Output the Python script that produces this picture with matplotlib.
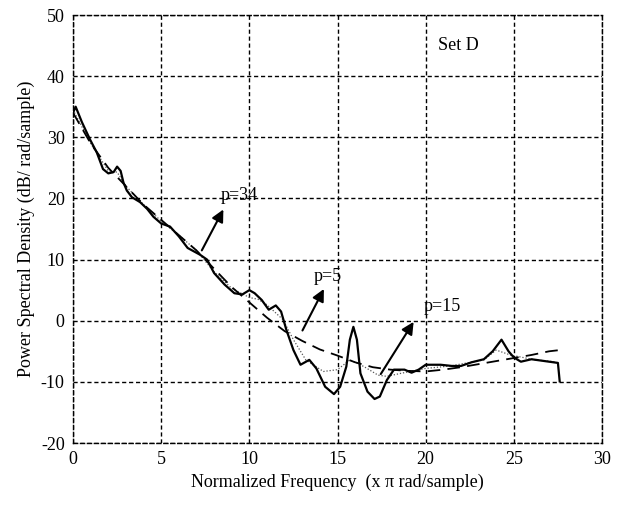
import matplotlib
matplotlib.use("Agg")
import matplotlib.pyplot as plt

# periodogram-like estimate (solid)
freq_solid = [0, 0.15, 0.5, 0.97, 1.35, 1.7, 2.0, 2.3, 2.5, 2.7,
              2.86, 3.05, 3.34, 3.8, 4.2, 4.56, 5.0, 5.5, 6.0, 6.5,
              7.2, 7.6, 8.0, 8.6, 9.15, 9.6, 10.0, 10.3, 10.7, 11.1,
              11.5, 11.8, 12.1, 12.5, 12.9, 13.4, 13.8, 14.3, 14.8, 15.15,
              15.5, 15.7, 15.9, 16.1, 16.3, 16.7, 17.1, 17.4, 17.8, 18.2,
              18.8, 19.2, 19.6, 20.0, 20.85, 21.5, 22.0, 22.6, 23.3, 23.8,
              24.3, 24.7, 25.0, 25.4, 26.0, 26.5, 27.5, 27.6]
psd_solid = [34, 35, 32.5, 29.6, 27.5, 24.8, 24.1, 24.3, 25.2, 24.5,
             22.6, 21.3, 20.2, 19.4, 18.3, 17, 15.9, 15.4, 13.8, 11.9,
             10.8, 10, 7.8, 5.9, 4.5, 4.3, 5, 4.5, 3.4, 1.8,
             2.5, 1.5, -1.5, -4.8, -7.2, -6.4, -7.8, -10.8, -12, -10.8,
             -7.5, -3.1, -1, -3.1, -8.6, -11.6, -12.8, -12.4, -9.7, -8,
             -8, -8.5, -8, -7.2, -7.2, -7.4, -7.4, -6.8, -6.3, -5,
             -3.1, -5, -6, -6.7, -6.3, -6.5, -6.9, -9.9]

# p=5 (dashed)
freq_p5 = [0, 1, 2, 3, 4, 5, 6, 7, 8, 9, 10, 11, 12, 13, 14, 15, 16, 17, 18,
           19, 20, 21, 22, 23, 24, 25, 26, 27, 27.6]
psd_p5 = [34, 29, 25, 22, 19, 16.5, 14, 11.5, 8.5, 5.5, 3, 0.5, -1.7, -3.3,
          -4.7, -5.7, -6.8, -7.6, -8, -8.2, -8.3, -8, -7.6, -7.1, -6.6, -6.1,
          -5.6, -5, -4.8]

# p=15 (dotted)
freq_p15 = [0, 1, 2, 2.5, 3, 4, 5, 6, 7, 8, 9, 10, 10.5, 11, 11.9, 12.5, 13.2,
            14.2, 15, 15.7, 16.5, 17.3, 17.8, 18.6, 20, 21.4, 23.3, 24, 24.8,
            26.2, 27.3]
psd_p15 = [34.5, 29, 24.5, 24.3, 22, 19, 16.3, 14, 11.5, 8, 5.3, 3.8, 3.5, 2.6,
           0.2, -3.1, -6.4, -8.3, -8, -6.4, -7.5, -8.9, -9.1, -8.6, -7.8, -7.4,
           -6.4, -4.8, -5.6, -6.4, -6.7]

x_ticks = [0, 5, 10, 15, 20, 25, 30]
y_ticks = [-20, -10, 0, 10, 20, 30, 40, 50]

plt.rcParams['font.family'] = ['Liberation Serif', 'DejaVu Serif']
plt.rcParams['axes.unicode_minus'] = False

fig = plt.figure(figsize=(6.21, 5.07), dpi=100)
ax = fig.add_axes([0.1176, 0.1262, 0.8518, 0.8442])

ax.plot(freq_p15, psd_p15, color='#555555', lw=0.9, linestyle=(0, (1, 1.5)))
ax.plot(freq_p5, psd_p5, color='black', lw=1.3, linestyle=(0, (7, 4)))
ax.plot(freq_solid, psd_solid, color='black', lw=1.6)

ax.set_xlim(0, 30)
ax.set_ylim(-20, 50)
ax.set_xticks(x_ticks)
ax.set_yticks(y_ticks)
ax.tick_params(length=0, labelsize=13, pad=6)
ax.grid(True, color='black', lw=1.0, linestyle=(0, (3, 2)))
for s in ax.spines.values():
    s.set_linestyle((0, (3, 2)))
    s.set_linewidth(1.0)

ax.set_xlabel('Normalized Frequency  (x \u03c0 rad/sample)', fontsize=13, labelpad=4)
ax.set_ylabel('Power Spectral Density (dB/ rad/sample)', fontsize=13, labelpad=4)

ax.text(20.7, 45, 'Set D', fontsize=13, va='center', ha='left')

arrow = dict(arrowstyle='-|>', color='black', lw=1.5, mutation_scale=18)
ax.annotate('', xy=(8.6, 18.6), xytext=(7.23, 11.1), arrowprops=arrow)
ax.text(8.4, 20.5, 'p=34', fontsize=13, va='center', ha='left')
ax.annotate('', xy=(14.3, 5.6), xytext=(12.94, -2.0), arrowprops=arrow)
ax.text(13.65, 7.3, 'p=5', fontsize=13, va='center', ha='left')
ax.annotate('', xy=(19.4, 0.2), xytext=(17.37, -9.1), arrowprops=arrow)
ax.text(19.9, 2.3, 'p=15', fontsize=13, va='center', ha='left')

fig.savefig('out.png', dpi=100)
